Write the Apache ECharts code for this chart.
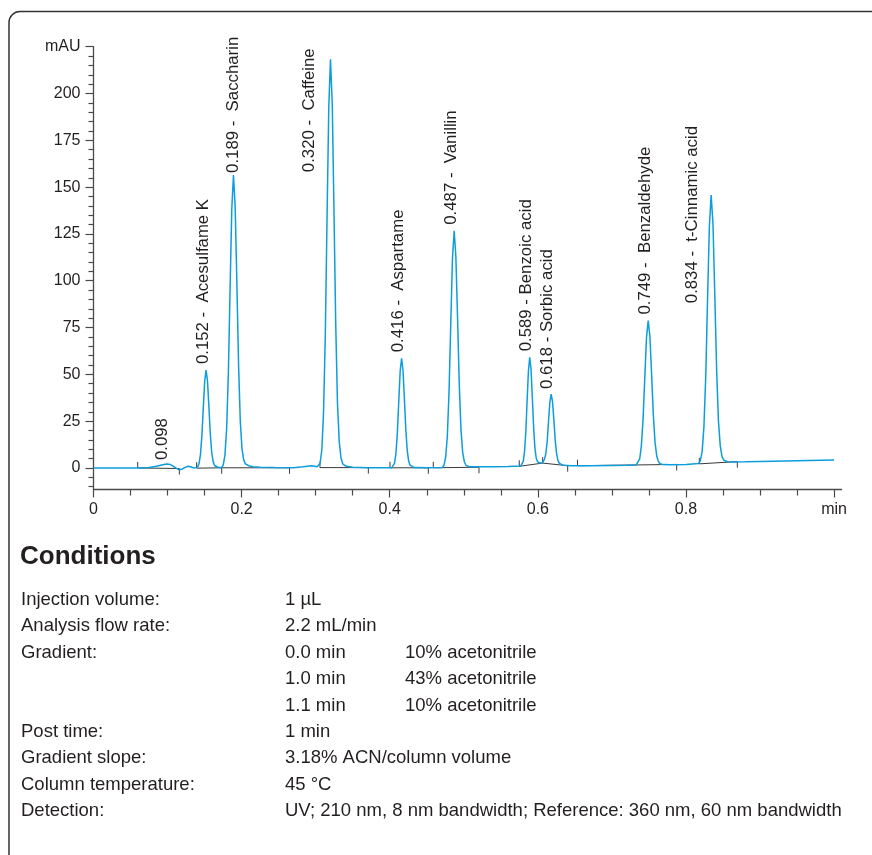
<!DOCTYPE html>
<html>
<head>
<meta charset="utf-8">
<title>Sweetener and preservative separation</title>
<script src="https://cdn.jsdelivr.net/npm/echarts@6/dist/echarts.min.js"></script>
<style>
  html, body { margin: 0; padding: 0; background: #ffffff; }
  #chart { width: 872px; height: 855px; }
</style>
</head>
<body>
<div id="chart"></div>
<script>
// ---- Detector trace: [retention time (min), absorbance (mAU)] ----
const trace = [
  [0, 0], [0.03, 0], [0.06, 0], [0.075, 0.2], [0.085, 0.9], [0.092, 1.6], [0.0988, 2.1], [0.104, 1.8],
  [0.108, 0.9], [0.112, -0.2], [0.1159, -1.0], [0.119, -0.7], [0.123, 0.2], [0.128, 0.9], [0.132, 0.5],
  [0.136, -0.1], [0.1387, 0.0],
  [0.1406, 0.6], [0.1425, 2.3], [0.1444, 7.1], [0.1463, 17.0], [0.1482, 31.7], [0.1501, 46.2], [0.152, 52.3],
  [0.1539, 46.5], [0.1558, 33.0], [0.1577, 18.3], [0.1596, 8.4], [0.1615, 3.4], [0.1634, 1.3], [0.1653, 0.5],
  [0.1691, 0.2], [0.1731, 0.2],
  [0.1752, 1.7], [0.1775, 6.9], [0.1798, 21.1], [0.1821, 50.9], [0.1844, 95.0], [0.1867, 138.2], [0.189, 156.5],
  [0.1913, 139.3], [0.1936, 98.6], [0.1959, 54.8], [0.1982, 25.0], [0.2005, 10.2], [0.2028, 4.3], [0.2051, 2.2],
  [0.2097, 1.2], [0.215, 0.7], [0.225, 0.4], [0.245, 0.2], [0.27, 0.1],
  [0.283, 0.6], [0.2946, 1.2], [0.302, 0.6], [0.3036, 0.6],
  [0.3059, 2.4], [0.3083, 9.6], [0.3106, 29.5], [0.313, 70.9], [0.3153, 132.5], [0.3177, 192.8], [0.32, 218.3],
  [0.3224, 194.3], [0.3247, 137.5], [0.3271, 76.4], [0.3294, 34.9], [0.3318, 14.2], [0.3341, 5.5], [0.3365, 2.2],
  [0.3412, 0.9], [0.35, 0.4], [0.37, 0.1], [0.4027, 0.1],
  [0.4046, 0.6], [0.4065, 2.6], [0.4084, 7.9], [0.4103, 19.0], [0.4122, 35.6], [0.4141, 51.7], [0.416, 58.6],
  [0.4179, 52.2], [0.4198, 36.9], [0.4217, 20.5], [0.4236, 9.4], [0.4255, 3.8], [0.4274, 1.5], [0.4293, 0.6],
  [0.4331, 0.2], [0.45, 0.1], [0.4709, 0.3],
  [0.4732, 1.4], [0.4755, 5.6], [0.4778, 17.1], [0.4801, 41.2], [0.4824, 76.9], [0.4847, 111.9], [0.487, 126.7],
  [0.4893, 112.8], [0.4916, 79.8], [0.4939, 44.3], [0.4962, 20.3], [0.4985, 8.2], [0.5008, 3.2], [0.5031, 1.3],
  [0.5077, 0.7], [0.515, 0.6], [0.54, 0.7], [0.56, 0.8], [0.5768, 1.0],
  [0.5785, 1.6], [0.5803, 3.5], [0.582, 8.7], [0.5838, 19.6], [0.5855, 36.0], [0.5873, 51.9], [0.589, 59.1],
  [0.5908, 52.8], [0.5925, 37.8], [0.5943, 21.7], [0.596, 10.7], [0.5978, 5.2], [0.5995, 3.4], [0.6013, 2.8],
  [0.603, 2.6], [0.6048, 2.6], [0.6063, 2.8],
  [0.6072, 3.3], [0.609, 4.7], [0.6108, 7.6], [0.6126, 14.2], [0.6144, 24.8], [0.6162, 35.1], [0.618, 39.5],
  [0.6198, 35.4], [0.6216, 25.8], [0.6234, 15.0], [0.6252, 7.9], [0.627, 4.3], [0.6288, 2.6], [0.6306, 1.9],
  [0.6342, 1.4], [0.645, 1.2], [0.67, 1.2], [0.70, 1.3], [0.72, 1.4],
  [0.7329, 1.6], [0.7352, 2.3], [0.7375, 4.8], [0.7398, 11.9], [0.7421, 26.5], [0.7444, 48.3], [0.7467, 69.7],
  [0.749, 78.7], [0.7513, 70.2], [0.7536, 50.1], [0.7559, 28.5], [0.7582, 13.8], [0.7605, 6.4], [0.7628, 3.4],
  [0.7651, 2.3], [0.7697, 1.8], [0.78, 1.7], [0.80, 1.9], [0.8169, 2.4],
  [0.8193, 3.8], [0.8218, 8.6], [0.8242, 21.7], [0.8267, 48.9], [0.8291, 89.4], [0.8316, 129.0], [0.834, 145.8],
  [0.8365, 130.0], [0.8389, 92.7], [0.8414, 52.6], [0.8438, 25.3], [0.8463, 11.8], [0.8487, 6.1], [0.8512, 4.1],
  [0.8561, 3.3], [0.865, 3.2], [0.88, 3.3], [0.90, 3.5], [0.95, 3.9], [1.0, 4.2]
];

// ---- Identified peaks ----
const peakTimes   = [0.098, 0.152, 0.189, 0.320, 0.416, 0.487, 0.589, 0.618, 0.749, 0.834];
const peakHeights = [2.1, 52.3, 156.5, 218.3, 58.6, 126.7, 59.1, 39.5, 78.7, 145.8];
const peakNames   = ['', 'Acesulfame K', 'Saccharin', 'Caffeine', 'Aspartame', 'Vanillin',
                     'Benzoic acid', 'Sorbic acid', 'Benzaldehyde', 't-Cinnamic acid'];

// ---- Integration baselines: [t start, mAU start, t end, mAU end] ----
const baselines = [
  [0.0597, 0.0, 0.1159, -0.3],
  [0.1393, -0.1, 0.1731, 0.1],
  [0.1731, 0.1, 0.2647, 0.1],
  [0.3058, 0.2, 0.3711, 0.2],
  [0.4003, 0.1, 0.4521, 0.1],
  [0.4588, 0.1, 0.5205, 0.4],
  [0.5749, 0.9, 0.6065, 2.6],
  [0.6065, 2.6, 0.6403, 1.2],
  [0.6535, 1.2, 0.7875, 1.9],
  [0.818, 2.2, 0.8693, 3.4]
];

// ---- Integration events: [time, mAU, 1 = peak start, -1 = peak end] ----
const events = [
  [0.0597, 0.0, 1], [0.1159, -0.3, -1], [0.1393, -0.1, 1], [0.1731, 0.1, -1], [0.2647, 0.1, -1],
  [0.3058, 0.2, 1], [0.3711, 0.2, -1], [0.4003, 0.1, 1], [0.4521, 0.1, -1], [0.4588, 0.1, 1],
  [0.5205, 0.4, -1], [0.5749, 0.9, 1], [0.6065, 2.6, 1], [0.6403, 1.2, -1], [0.6535, 1.2, 1],
  [0.7875, 1.9, -1], [0.818, 2.2, 1], [0.8693, 3.4, -1]
];

// ---- Axis ticks ----
const yMajorTicks = [0, 25, 50, 75, 100, 125, 150, 175, 200, 225];
const yMinorTicks = [-10, -5, 5, 10, 15, 20, 30, 35, 40, 45, 55, 60, 65, 70, 80, 85, 90, 95,
                     105, 110, 115, 120, 130, 135, 140, 145, 155, 160, 165, 170, 180, 185, 190, 195,
                     205, 210, 215, 220];
const xMajorTicks = [0, 0.2, 0.4, 0.6, 0.8, 1.0];
const xMinorTicks = [0.05, 0.1, 0.15, 0.25, 0.3, 0.35, 0.45, 0.5, 0.55, 0.65, 0.7, 0.75, 0.85, 0.9, 0.95];

// ---- Method conditions ----
const conditionLabels = ['Injection volume:', 'Analysis flow rate:', 'Gradient:', '', '',
                         'Post time:', 'Gradient slope:', 'Column temperature:', 'Detection:'];
const conditionValues = ['1 µL', '2.2 mL/min', '0.0 min', '1.0 min', '1.1 min', '1 min',
                         '3.18% ACN/column volume', '45 °C',
                         'UV; 210 nm, 8 nm bandwidth; Reference: 360 nm, 60 nm bandwidth'];
const gradientSteps = ['10% acetonitrile', '43% acetonitrile', '10% acetonitrile'];

// ---- Styling ----
const FONT = "'Liberation Sans', Arial, Helvetica, sans-serif";
const INK = '#231f20';
const AXIS = '#4a4a4a';
const TRACE = '#0c9ddc';

// label placement per peak (pixel offsets from the apex; "at" pins the label start to a signal level)
const labelLayout = {
  0: { dx: -4, dy: -4 },
  2: { dx: 0, dy: -2 },
  3: { dx: -21, at: 158 },
  6: { sep: ' - ' },
  7: { sep: ' - ', dx: -3.5, dy: -5 },
  9: { dx: -19, at: 88 }
};

function peakLabel(i) {
  const t = peakTimes[i].toFixed(3);
  if (!peakNames[i]) return t;
  const sep = (labelLayout[i] && labelLayout[i].sep) || ' -  ';
  return t + sep + peakNames[i];
}

const chart = echarts.init(document.getElementById('chart'), null, { renderer: 'canvas' });

const axisFont = { color: INK, fontSize: 16, fontFamily: FONT };
const BODY_SIZE = 18.5;

const graphics = [
  // panel frame with rounded top-left corner
  {
    type: 'rect', silent: true, z: 0,
    shape: { x: 9, y: 11.5, width: 900, height: 900, r: 11 },
    style: { fill: 'none', stroke: '#333333', lineWidth: 1.5 }
  },
  {
    type: 'text', silent: true, x: 20, y: 557,
    style: { text: 'Conditions', fill: INK, fontFamily: FONT, fontSize: 26, fontWeight: 'bold',
             align: 'left', verticalAlign: 'middle' }
  }
];
conditionLabels.forEach((lab, i) => {
  const y = 600 + i * 26.375;
  if (lab) graphics.push({ type: 'text', silent: true, x: 21, y,
    style: { text: lab, fill: INK, fontFamily: FONT, fontSize: BODY_SIZE, align: 'left', verticalAlign: 'middle' } });
  graphics.push({ type: 'text', silent: true, x: 285, y,
    style: { text: conditionValues[i], fill: INK, fontFamily: FONT, fontSize: BODY_SIZE, align: 'left', verticalAlign: 'middle' } });
  if (i >= 2 && i <= 4) graphics.push({ type: 'text', silent: true, x: 405, y,
    style: { text: gradientSteps[i - 2], fill: INK, fontFamily: FONT, fontSize: BODY_SIZE, align: 'left', verticalAlign: 'middle' } });
});

const option = {
  animation: false,
  backgroundColor: '#ffffff',
  grid: { left: 93.5, right: 30.5, top: 46.7, bottom: 365.5, containLabel: false, outerBoundsMode: 'none' },
  xAxis: [
    {
      type: 'value', min: 0, max: 1.01, position: 'bottom',
      axisLine: { show: true, onZero: false, lineStyle: { color: AXIS, width: 1.3 } },
      axisTick: { show: true, customValues: xMajorTicks, length: 8, lineStyle: { color: AXIS, width: 1.2 } },
      axisLabel: { show: true, customValues: xMajorTicks, margin: 12, ...axisFont,
                   formatter: v => (v === 1 ? 'min' : String(v)) },
      splitLine: { show: false }
    },
    {
      type: 'value', min: 0, max: 1.01, position: 'bottom',
      axisLine: { show: false, onZero: false },
      axisTick: { show: true, customValues: xMinorTicks, length: 6, lineStyle: { color: AXIS, width: 1.2 } },
      axisLabel: { show: false },
      splitLine: { show: false }
    }
  ],
  yAxis: [
    {
      type: 'value', min: -11.5, max: 225, position: 'left',
      axisLine: { show: true, onZero: false, lineStyle: { color: AXIS, width: 1.3 } },
      axisTick: { show: true, customValues: yMajorTicks, length: 8, lineStyle: { color: AXIS, width: 1.2 } },
      axisLabel: { show: true, customValues: yMajorTicks, margin: 13, ...axisFont,
                   formatter: v => (v === 225 ? 'mAU' : String(v)) },
      splitLine: { show: false }
    },
    {
      type: 'value', min: -11.5, max: 225, position: 'left',
      axisLine: { show: false, onZero: false },
      axisTick: { show: true, customValues: yMinorTicks, length: 5, lineStyle: { color: AXIS, width: 1.2 } },
      axisLabel: { show: false },
      splitLine: { show: false }
    }
  ],
  series: [
    {
      name: 'Integration baseline',
      type: 'custom', xAxisIndex: 0, yAxisIndex: 0, silent: true, z: 2,
      encode: { x: [0, 2], y: [1, 3] },
      data: baselines,
      renderItem: (params, api) => {
        const a = api.coord([api.value(0), api.value(1)]);
        const b = api.coord([api.value(2), api.value(3)]);
        return { type: 'line', shape: { x1: a[0], y1: a[1], x2: b[0], y2: b[1] },
                 style: { stroke: '#3a3a3a', lineWidth: 1 } };
      }
    },
    {
      name: 'Integration events',
      type: 'custom', xAxisIndex: 0, yAxisIndex: 0, silent: true, z: 2,
      encode: { x: 0, y: 1 },
      data: events,
      renderItem: (params, api) => {
        const p = api.coord([api.value(0), api.value(1)]);
        const dir = api.value(2);
        return { type: 'line', shape: { x1: p[0], y1: p[1], x2: p[0], y2: p[1] - 6 * dir },
                 style: { stroke: '#3a3a3a', lineWidth: 1 } };
      }
    },
    {
      name: 'Signal',
      type: 'line', xAxisIndex: 0, yAxisIndex: 0, z: 3,
      data: trace,
      showSymbol: false, symbol: 'none',
      smooth: false,
      lineStyle: { color: TRACE, width: 1.5 },
      silent: true
    },
    {
      name: 'Peak labels',
      type: 'custom', xAxisIndex: 0, yAxisIndex: 0, silent: true, z: 4,
      encode: { x: 0, y: 1 },
      data: peakTimes.map((t, i) => [t, peakHeights[i], i]),
      renderItem: (params, api) => {
        const i = api.value(2);
        const lay = labelLayout[i] || {};
        const p = api.coord([api.value(0), api.value(1)]);
        const dx = lay.dx != null ? lay.dx : -3;
        let y = p[1] + (lay.dy != null ? lay.dy : -6);
        if (lay.at != null) y = api.coord([api.value(0), lay.at])[1];
        return {
          type: 'text', x: p[0] + dx, y: y, rotation: Math.PI / 2,
          style: { text: peakLabel(i), fill: INK, fontFamily: FONT, fontSize: 16.8,
                   align: 'left', verticalAlign: 'middle' }
        };
      }
    }
  ],
  graphic: graphics
};

chart.setOption(option);
</script>
</body>
</html>
